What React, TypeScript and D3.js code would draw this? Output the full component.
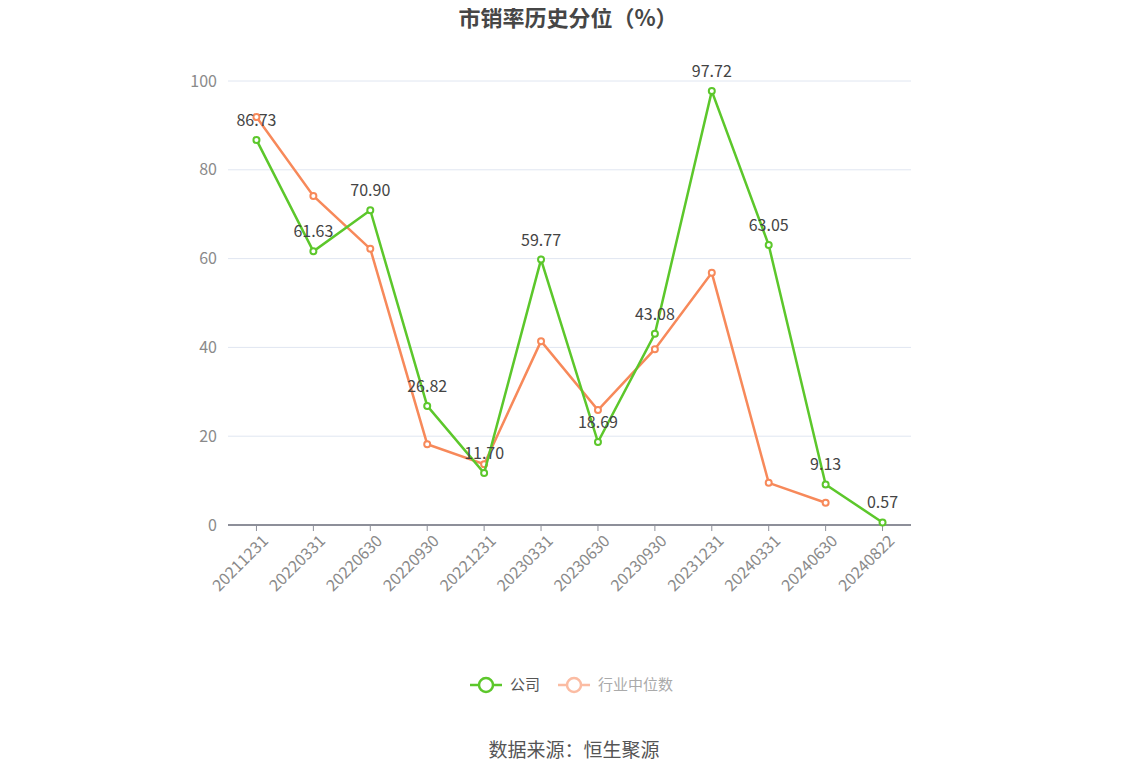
import { useEffect, useRef } from "react"
import * as d3 from "d3"

const categories = [
  "20211231", "20220331", "20220630", "20220930", "20221231", "20230331",
  "20230630", "20230930", "20231231", "20240331", "20240630", "20240822",
]
const companyValues: (number | null)[] = [86.73, 61.63, 70.9, 26.82, 11.7, 59.77, 18.69, 43.08, 97.72, 63.05, 9.13, 0.57]
const industryValues: (number | null)[] = [91.9, 74.1, 62.2, 18.2, 13.7, 41.4, 25.9, 39.6, 56.8, 9.5, 5.0, null]
const yTicks = [0, 20, 40, 60, 80, 100]

const GREEN = "#5cc72b"
const ORANGE = "#f7895a"
const FONT = "'Noto Sans CJK SC', 'Noto Sans', sans-serif"

const App = () => {
  const svgRef = useRef<SVGSVGElement>(null)

  useEffect(() => {
    if (!svgRef.current) return
    const svg = d3.select(svgRef.current)
    svg.selectAll("*").remove()

    const margin = { top: 81, left: 228, right: 1148 - 911, bottom: 776 - 525 }
    const width = 1148
    const height = 776

    const x = d3.scaleBand().domain(categories).range([margin.left, width - margin.right])
    const y = d3.scaleLinear().domain([0, 100]).range([height - margin.bottom, margin.top])
    const cx = (c: string) => (x(c) || 0) + x.bandwidth() / 2

    // Title
    svg.append("text")
      .attr("x", 568).attr("y", 26)
      .attr("text-anchor", "middle")
      .attr("font-family", FONT).attr("font-size", 22).attr("font-weight", "bold")
      .attr("fill", "#464646")
      .text("市销率历史分位（%）")

    // Grid lines
    svg.append("g").selectAll("line").data(yTicks.filter((t) => t > 0)).enter().append("line")
      .attr("x1", margin.left).attr("x2", width - margin.right)
      .attr("y1", (d) => y(d)).attr("y2", (d) => y(d))
      .attr("stroke", "#e0e6f1").attr("stroke-width", 1)

    // Y tick labels
    svg.append("g").selectAll("text").data(yTicks).enter().append("text")
      .attr("x", margin.left - 11).attr("y", (d) => y(d))
      .attr("dy", "0.35em").attr("text-anchor", "end")
      .attr("font-family", FONT).attr("font-size", 16).attr("fill", "#8a8a8a")
      .text((d) => d)

    // X axis
    const base = y(0)
    svg.append("line")
      .attr("x1", margin.left).attr("x2", width - margin.right)
      .attr("y1", base).attr("y2", base)
      .attr("stroke", "#8d8f99").attr("stroke-width", 2)
    svg.append("g").selectAll("line").data(categories).enter().append("line")
      .attr("x1", (d) => cx(d)).attr("x2", (d) => cx(d))
      .attr("y1", base).attr("y2", base + 6)
      .attr("stroke", "#8d8f99").attr("stroke-width", 1)
    svg.append("g").selectAll("text").data(categories).enter().append("text")
      .attr("transform", (d) => `translate(${cx(d) + 5},${base + 9}) rotate(-45)`)
      .attr("text-anchor", "end").attr("dy", "0.7em")
      .attr("font-family", FONT).attr("font-size", 16).attr("fill", "#8a8a8a")
      .text((d) => d)

    const drawSeries = (values: (number | null)[], color: string) => {
      const pts = categories.map((c, i) => ({ c, v: values[i] })).filter((p) => p.v !== null) as { c: string; v: number }[]
      const line = d3.line<{ c: string; v: number }>().x((d) => cx(d.c)).y((d) => y(d.v))
      svg.append("path").datum(pts)
        .attr("fill", "none").attr("stroke", color).attr("stroke-width", 2.5)
        .attr("d", line)
      svg.append("g").selectAll("circle").data(pts).enter().append("circle")
        .attr("cx", (d) => cx(d.c)).attr("cy", (d) => y(d.v)).attr("r", 3)
        .attr("fill", "#fff").attr("stroke", color).attr("stroke-width", 2)
      return pts
    }

    drawSeries(industryValues, ORANGE)
    const companyPts = drawSeries(companyValues, GREEN)

    svg.append("g").selectAll("text").data(companyPts).enter().append("text")
      .attr("x", (d) => cx(d.c)).attr("y", (d) => y(d.v) - 14)
      .attr("text-anchor", "middle")
      .attr("font-family", FONT).attr("font-size", 16).attr("fill", "#444")
      .text((d) => d.v.toFixed(2))

    // Legend
    const legend = [
      { name: "公司", color: GREEN, text: "#555" },
      { name: "行业中位数", color: "#fbbca3", text: "#aaa" },
    ]
    const lg = svg.append("g")
    let lx = 470
    legend.forEach((l) => {
      lg.append("line").attr("x1", lx).attr("x2", lx + 32).attr("y1", 685).attr("y2", 685)
        .attr("stroke", l.color).attr("stroke-width", 2.5)
      lg.append("circle").attr("cx", lx + 16).attr("cy", 685).attr("r", 7)
        .attr("fill", "#fff").attr("stroke", l.color).attr("stroke-width", 2.5)
      const t = lg.append("text").attr("x", lx + 40).attr("y", 685).attr("dy", "0.35em")
        .attr("font-family", FONT).attr("font-size", 15).attr("fill", l.text)
        .text(l.name)
      lx += 40 + (t.node()?.getComputedTextLength() || 30) + 18
    })

    // Source
    svg.append("text")
      .attr("x", 574).attr("y", 750).attr("dy", "0.35em")
      .attr("text-anchor", "middle")
      .attr("font-family", FONT).attr("font-size", 19).attr("fill", "#555")
      .text("数据来源：恒生聚源")
  }, [])

  return (
    <div style={{ width: 1148, height: 776, margin: -8, background: "#fff" }}>
      <svg ref={svgRef} width={1148} height={776} style={{ display: "block" }}></svg>
    </div>
  )
}

export default App
